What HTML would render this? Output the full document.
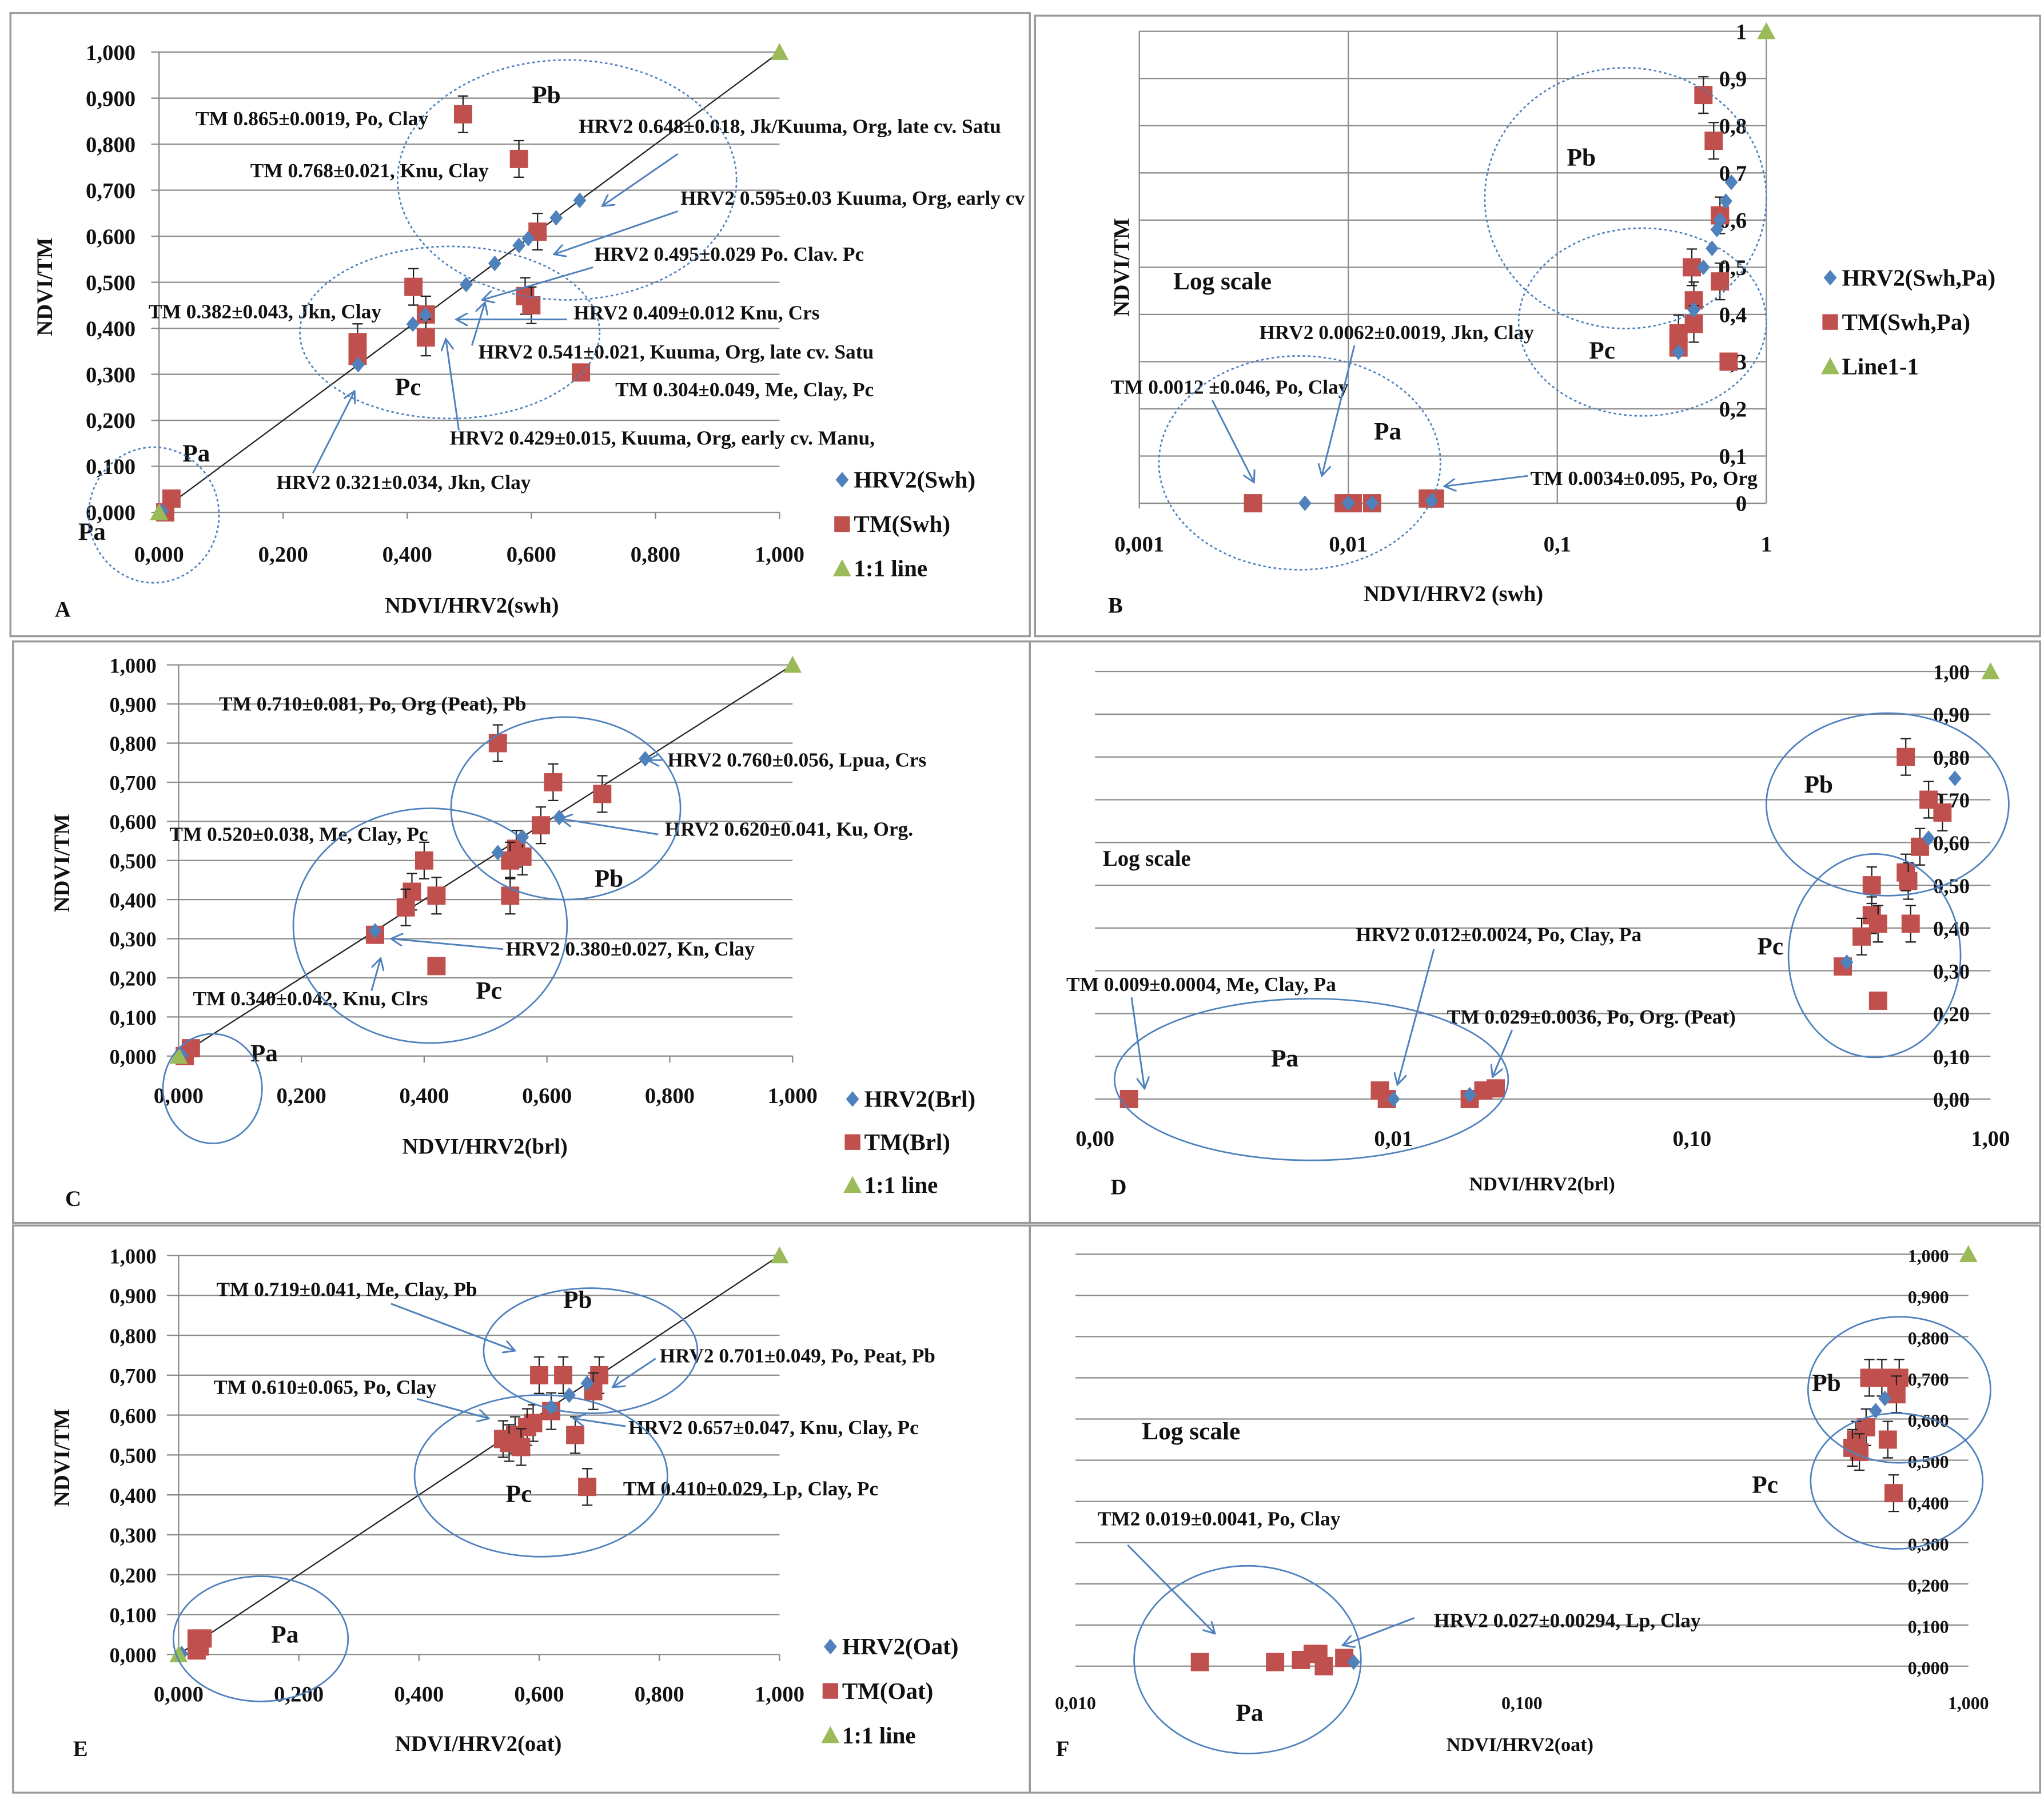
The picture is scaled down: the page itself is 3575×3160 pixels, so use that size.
<!DOCTYPE html>
<html><head><meta charset="utf-8"><style>
html,body{margin:0;padding:0;background:#fff}
svg{display:block}
text{font-family:"Liberation Serif",serif;font-weight:bold;fill:#111}
</style></head><body>
<svg id="fig" xmlns="http://www.w3.org/2000/svg" width="3575" height="3160" viewBox="0 0 1568 1386">
<defs><marker id="ah" markerWidth="10" markerHeight="10" refX="9" refY="5" orient="auto" markerUnits="userSpaceOnUse"><path d="M0 0L9 5L0 10" fill="none" stroke="#4f81bd" stroke-width="1.3"/></marker></defs>
<rect x="0" y="0" width="1568" height="1386" fill="#fff"/>
<g fill="none" stroke="#999" stroke-width="1.5">
<rect x="8" y="10" width="782" height="478"/><rect x="794" y="12" width="771" height="476"/>
<rect x="10" y="492" width="780" height="446"/><rect x="790" y="492" width="775" height="446"/>
<rect x="10" y="940" width="780" height="435"/><rect x="790" y="940" width="775" height="435"/>
</g>
<g id="layer"></g>
<g font-size="15.5">
<!-- A -->
<text x="150" y="96">TM 0.865±0.0019, Po, Clay</text>
<text x="192" y="136">TM 0.768±0.021, Knu, Clay</text>
<text x="444" y="102">HRV2 0.648±0.018, Jk/Kuuma, Org, late  cv. Satu</text>
<text x="522" y="157">HRV2 0.595±0.03 Kuuma, Org, early cv</text>
<text x="456" y="200">HRV2 0.495±0.029  Po. Clav. Pc</text>
<text x="114" y="244">TM 0.382±0.043, Jkn, Clay</text>
<text x="440" y="245">HRV2 0.409±0.012  Knu, Crs</text>
<text x="367" y="275">HRV2 0.541±0.021, Kuuma, Org, late  cv. Satu</text>
<text x="472" y="304">TM 0.304±0.049, Me, Clay, Pc</text>
<text x="345" y="341">HRV2 0.429±0.015, Kuuma, Org, early cv. Manu,</text>
<text x="212" y="375">HRV2 0.321±0.034, Jkn, Clay</text>
<text x="408" y="79" font-size="19">Pb</text><text x="303" y="303" font-size="19">Pc</text>
<text x="140" y="354" font-size="19">Pa</text><text x="60" y="414" font-size="19">Pa</text>
<text x="42" y="473" font-size="17">A</text>
<!-- B -->
<text x="966" y="260">HRV2 0.0062±0.0019, Jkn, Clay</text>
<text x="852" y="302">TM 0.0012 ±0.046, Po, Clay</text>
<text x="1174" y="372">TM 0.0034±0.095, Po, Org</text>
<text x="900" y="222" font-size="19">Log scale</text>
<text x="1202" y="127" font-size="19">Pb</text><text x="1219" y="275" font-size="19">Pc</text><text x="1054" y="337" font-size="19">Pa</text>
<text x="850" y="470" font-size="17">B</text>
<!-- C -->
<text x="168" y="545">TM 0.710±0.081, Po, Org (Peat), Pb</text>
<text x="512" y="588">HRV2 0.760±0.056, Lpua, Crs</text>
<text x="510" y="641">HRV2 0.620±0.041, Ku, Org.</text>
<text x="130" y="645">TM 0.520±0.038, Me, Clay, Pc</text>
<text x="388" y="733">HRV2 0.380±0.027, Kn, Clay</text>
<text x="148" y="771">TM 0.340±0.042, Knu, Clrs</text>
<text x="456" y="680" font-size="19">Pb</text><text x="365" y="766" font-size="19">Pc</text><text x="192" y="814" font-size="19">Pa</text>
<text x="50" y="925" font-size="17">C</text>
<!-- D -->
<text x="1040" y="722">HRV2 0.012±0.0024, Po, Clay, Pa</text>
<text x="818" y="760">TM 0.009±0.0004, Me, Clay, Pa</text>
<text x="1110" y="785">TM 0.029±0.0036, Po, Org. (Peat)</text>
<text x="846" y="664" font-size="17">Log scale</text>
<text x="1384" y="608" font-size="19">Pb</text><text x="1348" y="732" font-size="19">Pc</text><text x="975" y="818" font-size="19">Pa</text>
<text x="852" y="916" font-size="17">D</text>
<!-- E -->
<text x="166" y="994">TM 0.719±0.041, Me, Clay, Pb</text>
<text x="506" y="1045">HRV2 0.701±0.049, Po, Peat, Pb</text>
<text x="164" y="1069">TM 0.610±0.065, Po, Clay</text>
<text x="482" y="1100">HRV2 0.657±0.047, Knu, Clay, Pc</text>
<text x="478" y="1147">TM 0.410±0.029, Lp, Clay, Pc</text>
<text x="432" y="1003" font-size="19">Pb</text><text x="388" y="1152" font-size="19">Pc</text><text x="208" y="1260" font-size="19">Pa</text>
<text x="56" y="1347" font-size="17">E</text>
<!-- F -->
<text x="842" y="1170">TM2 0.019±0.0041, Po, Clay</text>
<text x="1100" y="1248">HRV2 0.027±0.00294, Lp, Clay</text>
<text x="876" y="1104" font-size="19">Log scale</text>
<text x="1390" y="1067" font-size="19">Pb</text><text x="1344" y="1145" font-size="19">Pc</text><text x="948" y="1320" font-size="19">Pa</text>
<text x="810" y="1347" font-size="17">F</text>
</g>
<g fill="none" stroke="#4f81bd" stroke-width="1.2">
<ellipse cx="435" cy="138" rx="130" ry="92" stroke-dasharray="2,2"/>
<ellipse cx="345" cy="255" rx="115" ry="66" stroke-dasharray="2,2"/>
<ellipse cx="118" cy="395" rx="50" ry="52" stroke-dasharray="2,2"/>
<ellipse cx="1247" cy="152" rx="108" ry="100" stroke-dasharray="2,2"/>
<ellipse cx="1260" cy="247" rx="95" ry="72" stroke-dasharray="2,2"/>
<ellipse cx="997" cy="355" rx="108" ry="82" stroke-dasharray="2,2"/>
<ellipse cx="434" cy="620" rx="88" ry="70"/>
<ellipse cx="330" cy="710" rx="105" ry="90"/>
<ellipse cx="163" cy="835" rx="38" ry="42"/>
<ellipse cx="1448" cy="617" rx="93" ry="70"/>
<ellipse cx="1438" cy="733" rx="66" ry="78"/>
<ellipse cx="1006" cy="828" rx="151" ry="62"/>
<ellipse cx="453" cy="1036" rx="82" ry="48"/>
<ellipse cx="415" cy="1132" rx="97" ry="62"/>
<ellipse cx="200" cy="1257" rx="67" ry="48"/>
<ellipse cx="1457" cy="1066" rx="70" ry="56"/>
<ellipse cx="1455" cy="1136" rx="66" ry="52"/>
<ellipse cx="957" cy="1273" rx="87" ry="72"/>
</g>
<g stroke="#4f81bd" stroke-width="1.3" fill="none" marker-end="url(#ah)">
<line x1="520" y1="118" x2="462" y2="158"/><line x1="520" y1="162" x2="425" y2="195"/>
<line x1="455" y1="205" x2="370" y2="230"/><line x1="435" y1="245" x2="350" y2="245"/>
<line x1="362" y1="265" x2="372" y2="232"/><line x1="352" y1="330" x2="342" y2="260"/>
<line x1="240" y1="363" x2="272" y2="300"/>
<line x1="1039" y1="265" x2="1014" y2="365"/><line x1="930" y1="307" x2="962" y2="370"/>
<line x1="1172" y1="365" x2="1108" y2="373"/>
<line x1="508" y1="583" x2="497" y2="583"/><line x1="505" y1="640" x2="430" y2="628"/>
<line x1="386" y1="728" x2="300" y2="720"/><line x1="285" y1="760" x2="292" y2="735"/>
<line x1="1100" y1="728" x2="1072" y2="832"/><line x1="868" y1="765" x2="878" y2="835"/>
<line x1="1160" y1="790" x2="1145" y2="826"/>
<line x1="300" y1="1000" x2="395" y2="1036"/><line x1="503" y1="1042" x2="470" y2="1064"/>
<line x1="320" y1="1073" x2="375" y2="1088"/><line x1="480" y1="1094" x2="440" y2="1088"/>
<line x1="865" y1="1185" x2="932" y2="1253"/><line x1="1085" y1="1241" x2="1030" y2="1262"/>
</g>
<script>
// ===== Panel A data =====
var aHrvX=[0.321,0.409,0.429,0.495,0.541,0.58,0.595,0.64,0.678,0.005];
var aHrvY=[0.321,0.409,0.429,0.495,0.541,0.58,0.595,0.64,0.678,0.002];
var aTmX=[0.49,0.58,0.61,0.41,0.43,0.43,0.32,0.32,0.59,0.60,0.68,0.02,0.01];
var aTmY=[0.865,0.768,0.61,0.49,0.43,0.38,0.37,0.34,0.47,0.45,0.304,0.03,0.0];
// ===== Panel B data (log x) =====
var bHrvX=[0.0062,0.01,0.013,0.025,0.38,0.45,0.5,0.55,0.58,0.6,0.64,0.68];
var bHrvY=[0,0,0,0.005,0.32,0.41,0.5,0.54,0.58,0.6,0.64,0.68];
var bTmX=[0.0035,0.0095,0.0105,0.013,0.024,0.026,0.5,0.56,0.6,0.44,0.45,0.38,0.38,0.45,0.6,0.66];
var bTmY=[0,0,0,0,0.01,0.01,0.865,0.768,0.61,0.5,0.43,0.36,0.33,0.38,0.47,0.3];
// ===== Panel C data =====
var cHrvX=[0.32,0.52,0.56,0.62,0.76,0.005];
var cHrvY=[0.32,0.52,0.56,0.61,0.76,0.002];
var cTmX=[0.52,0.61,0.69,0.59,0.55,0.56,0.54,0.40,0.38,0.42,0.37,0.32,0.42,0.54,0.02,0.01];
var cTmY=[0.80,0.70,0.67,0.59,0.53,0.51,0.50,0.50,0.42,0.41,0.38,0.31,0.23,0.41,0.02,0.0];
// ===== Panel D data (log x) =====
var dHrvX=[0.76,0.62,0.33,0.01,0.018];
var dHrvY=[0.75,0.61,0.32,0,0.01];
var dTmX=[0.52,0.62,0.69,0.58,0.52,0.53,0.40,0.40,0.42,0.37,0.32,0.42,0.54,0.0013,0.009,0.0095,0.018,0.02,0.022];
var dTmY=[0.80,0.70,0.67,0.59,0.53,0.51,0.50,0.43,0.41,0.38,0.31,0.23,0.41,0,0.02,0,0,0.02,0.025];
// ===== Panel E data =====
var eHrvX=[0.62,0.65,0.68,0.005];
var eHrvY=[0.62,0.65,0.68,0.002];
var eTmX=[0.60,0.64,0.70,0.69,0.68,0.66,0.62,0.59,0.58,0.56,0.54,0.57,0.55,0.03,0.04,0.03,0.035];
var eTmY=[0.70,0.70,0.70,0.66,0.42,0.55,0.61,0.58,0.57,0.55,0.54,0.52,0.53,0.04,0.04,0.01,0.02];
// ===== Panel F data (log x) =====
var fHrvX=[0.042,0.62,0.65];
var fHrvY=[0.01,0.62,0.65];
var fTmX=[0.019,0.028,0.032,0.035,0.036,0.04,0.034,0.60,0.64,0.70,0.69,0.68,0.66,0.59,0.56,0.57,0.55];
var fTmY=[0.01,0.01,0.015,0.03,0,0.02,0.03,0.70,0.70,0.70,0.66,0.42,0.55,0.58,0.55,0.52,0.53];
// tick labels
var linTicks=["0,000","0,100","0,200","0,300","0,400","0,500","0,600","0,700","0,800","0,900","1,000"];
var linXTicks=["0,000","0,200","0,400","0,600","0,800","1,000"];
var bYTicks=["0","0,1","0,2","0,3","0,4","0,5","0,6","0,7","0,8","0,9","1"];
var bXTicks=["0,001","0,01","0,1","1"];
var dYTicks=["0,00","0,10","0,20","0,30","0,40","0,50","0,60","0,70","0,80","0,90","1,00"];
var dXTicks=["0,00","0,01","0,10","1,00"];
var fXTicks=["0,010","0,100","1,000"];

var NS="http://www.w3.org/2000/svg", L=document.getElementById('layer');
function mk(t,a,p){var e=document.createElementNS(NS,t);for(var k in a)e.setAttribute(k,a[k]);(p||L).appendChild(e);return e;}
function txt(x,y,s,fs,anchor,p){var e=mk('text',{x:x,y:y,'font-size':fs,'text-anchor':anchor||'start'},p);e.textContent=s;return e;}

function panel(c){
  var g=mk('g',{});
  
  
  var sx=c.log?function(v){return c.x0+(Math.log10(v)-Math.log10(c.lmin))/(Math.log10(c.lmax)-Math.log10(c.lmin))*(c.x1-c.x0);}
              :function(v){return c.x0+v*(c.x1-c.x0);};
  var sy=function(v){return c.y0+v*(c.y1-c.y0);};
  for(var i=0;i<=10;i++){var y=sy(i/10);
    var gl=mk('line',{x1:c.gx0,x2:c.gx1,y1:y,y2:y,stroke:'#8c8c8c','stroke-width':1},g);
    
    
    var yt=txt(c.ytx,y+6,c.yTicks[i],c.yfs,'end',g);
    
    
  }
  if(c.vgrid){c.vgrid.forEach(function(v){var x=sx(v);mk('line',{x1:x,x2:x,y1:sy(1),y2:sy(0),stroke:'#8c8c8c','stroke-width':1},g);});}
  if(c.yaxis) mk('line',{x1:c.x0,x2:c.x0,y1:sy(1),y2:sy(0)+4,stroke:'#888','stroke-width':1},g);
  c.xTickVals.forEach(function(v,i){
    var xt=txt(sx(v),c.xly,c.xTicks[i],c.xfs,'middle',g);
    
    
    if(!c.log) mk('line',{x1:sx(v),x2:sx(v),y1:sy(0),y2:sy(0)+5,stroke:'#888'},g);
  });
  var xtit=txt(c.xtx,c.xty,c.xtitle,c.xtfs,'middle',g);
  
  
  if(c.ytitle){var yy=txt(0,0,c.ytitle,17,'middle',g);yy.setAttribute('transform','translate('+c.ytitleX+','+c.ytitleY+') rotate(-90)');
    
    }
  if(!c.log){var ln=mk('line',{x1:sx(0),y1:sy(0),x2:sx(1),y2:sy(1),stroke:'#222','stroke-width':1},g);
    
    }
  c.tmX.forEach(function(v,i){var x=sx(v),y=sy(c.tmY[i]);
    if(c.tmY[i]>0.35) mk('path',{d:'M'+x+' '+(y-14)+'V'+(y+14)+'M'+(x-4)+' '+(y-14)+'h8M'+(x-4)+' '+(y+14)+'h8',stroke:'#222','stroke-width':1},g);
    var r=mk('rect',{x:x-7,y:y-7,width:14,height:14,fill:'#c0504d'},g);
    
    
  });
  c.hX.forEach(function(v,i){var x=sx(v),y=sy(c.hY[i]);
    var d=mk('path',{d:'M'+x+' '+(y-6)+'L'+(x+5)+' '+y+'L'+x+' '+(y+6)+'L'+(x-5)+' '+y+'Z',fill:'#4f81bd'},g);
    
    
  });
  var tx=sx(1),ty=sy(1);
  var tri=mk('path',{d:'M'+tx+' '+(ty-7)+'L'+(tx+7)+' '+(ty+6)+'L'+(tx-7)+' '+(ty+6)+'Z',fill:'#9bbb59'},g);
  
  
  if(!c.log){
    var t0=mk('path',{d:'M'+sx(0)+' '+(sy(0)-7)+'l7 13h-14z',fill:'#9bbb59'},g);
    
    
  }
  if(c.leg){var items=[['d','#4f81bd'],['s','#c0504d'],['t','#9bbb59']];
    items.forEach(function(it,i){var lx=c.leg[0],ly=c.leg[1]+i*c.leg[2];
      var lg=mk('g',{},g);
      
      
      if(it[0]=='d')mk('path',{d:'M'+lx+' '+(ly-6)+'l5 6l-5 6l-5-6z',fill:it[1]},lg);
      if(it[0]=='s')mk('rect',{x:lx-6,y:ly-6,width:12,height:12,fill:it[1]},lg);
      if(it[0]=='t')mk('path',{d:'M'+lx+' '+(ly-7)+'l7 13h-14z',fill:it[1]},lg);
      txt(lx+9,ly+6,c.legText[i],18,'start',lg);
    });}
}
var P=[
 {name:'panel-a',log:false,x0:122,x1:598,y0:393,y1:40,gx0:116,gx1:598,ytx:104,yTicks:linTicks,yfs:17,yaxis:true,
  xTickVals:[0,0.2,0.4,0.6,0.8,1],xTicks:linXTicks,xly:431,xfs:17,xtitle:'NDVI/HRV2(swh)',xtx:362,xty:470,xtfs:17,
  ytitle:'NDVI/TM',ytitleX:40,ytitleY:220,hX:aHrvX,hY:aHrvY,tmX:aTmX,tmY:aTmY,leg:[646,368,34],legText:['HRV2(Swh)','TM(Swh)','1:1 line']},
 {name:'panel-b',log:true,lmin:0.001,lmax:1,x0:874,x1:1355,y0:386,y1:24,gx0:874,gx1:1355,ytx:1340,yTicks:bYTicks,yfs:17,yaxis:true,vgrid:[0.01,0.1,1],
  xTickVals:[0.001,0.01,0.1,1],xTicks:bXTicks,xly:423,xfs:17,xtitle:'NDVI/HRV2  (swh)',xtx:1115,xty:461,xtfs:17,
  ytitle:'NDVI/TM',ytitleX:866,ytitleY:205,hX:bHrvX,hY:bHrvY,tmX:bTmX,tmY:bTmY,leg:[1404,213,34],legText:['HRV2(Swh,Pa)','TM(Swh,Pa)','Line1-1']},
 {name:'panel-c',log:false,x0:137,x1:608,y0:810,y1:510,gx0:128,gx1:608,ytx:120,yTicks:linTicks,yfs:16,yaxis:true,
  xTickVals:[0,0.2,0.4,0.6,0.8,1],xTicks:linXTicks,xly:846,xfs:17,xtitle:'NDVI/HRV2(brl)',xtx:372,xty:885,xtfs:17,
  ytitle:'NDVI/TM',ytitleX:53,ytitleY:662,hX:cHrvX,hY:cHrvY,tmX:cTmX,tmY:cTmY,leg:[654,843,33],legText:['HRV2(Brl)','TM(Brl)','1:1 line']},
 {name:'panel-d',log:true,lmin:0.001,lmax:1,x0:840,x1:1527,y0:843,y1:515,gx0:840,gx1:1527,ytx:1511,yTicks:dYTicks,yfs:16,yaxis:false,
  xTickVals:[0.001,0.01,0.1,1],xTicks:dXTicks,xly:879,xfs:17,xtitle:'NDVI/HRV2(brl)',xtx:1183,xty:913,xtfs:15,
  hX:dHrvX,hY:dHrvY,tmX:dTmX,tmY:dTmY},
 {name:'panel-e',log:false,x0:137,x1:598,y0:1269,y1:963,gx0:128,gx1:598,ytx:120,yTicks:linTicks,yfs:16,yaxis:true,
  xTickVals:[0,0.2,0.4,0.6,0.8,1],xTicks:linXTicks,xly:1305,xfs:17,xtitle:'NDVI/HRV2(oat)',xtx:367,xty:1343,xtfs:17,
  ytitle:'NDVI/TM',ytitleX:53,ytitleY:1118,hX:eHrvX,hY:eHrvY,tmX:eTmX,tmY:eTmY,leg:[637,1263,34],legText:['HRV2(Oat)','TM(Oat)','1:1 line']},
 {name:'panel-f',log:true,lmin:0.01,lmax:1,x0:825,x1:1510,y0:1278,y1:962,gx0:825,gx1:1510,ytx:1495,yTicks:linTicks,yfs:14,yaxis:false,
  xTickVals:[0.01,0.1,1],xTicks:fXTicks,xly:1311,xfs:14,xtitle:'NDVI/HRV2(oat)',xtx:1166,xty:1343,xtfs:15,
  hX:fHrvX,hY:fHrvY,tmX:fTmX,tmY:fTmY}
];
P.forEach(panel);
</script>
</svg>
</body></html>
